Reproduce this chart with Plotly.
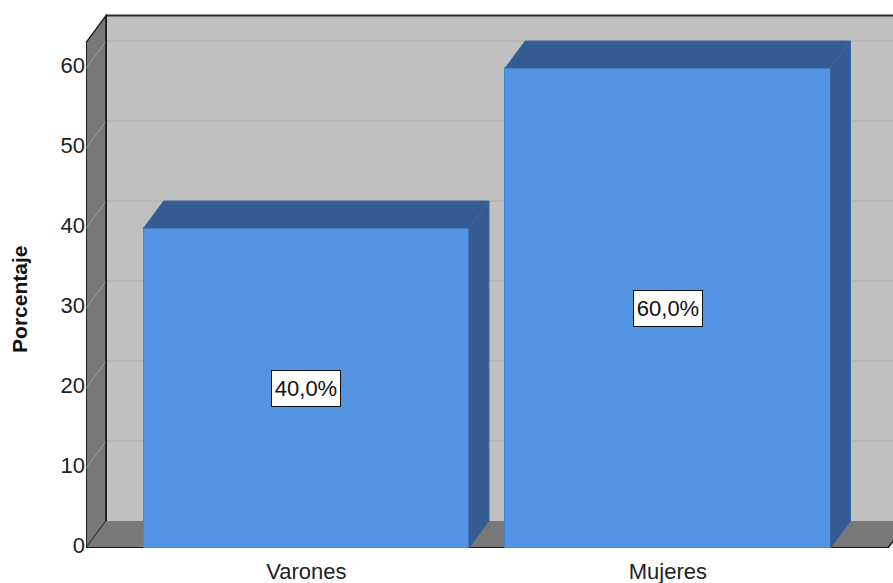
import plotly.graph_objects as go

# ---- data ----
categories = ["Varones", "Mujeres"]
percentages = [40.0, 60.0]
y_ticks = [0, 10, 20, 30, 40, 50, 60]
y_title = "Porcentaje"

# ---- 3D frame constants (data units) ----
DX = 0.0553      # depth offset along category axis
DY = 3.375       # depth offset along value axis
WALL_X = -0.609  # front edge of left wall
FLOOR_X_END = 1.609
WALL_TOP = 63.2
BAR_W = 0.9
X_RANGE = [-0.6095, 1.6229]
Y_RANGE = [0, 67.25]

FRONT = "#5394E3"
DARK = "#345C93"
WALL = "#C0C0C0"
SIDE = "#787878"

xs = list(range(len(categories)))

fig = go.Figure()

shapes = []
# back wall
shapes.append(dict(type="rect", xref="x", yref="y", layer="below",
                   x0=WALL_X + DX, x1=X_RANGE[1] + 0.2, y0=DY, y1=WALL_TOP + DY,
                   fillcolor=WALL, line=dict(width=0)))
# back wall grid lines
for t in y_ticks[1:]:
    shapes.append(dict(type="line", xref="x", yref="y", layer="below",
                       x0=WALL_X + DX, x1=X_RANGE[1] + 0.2, y0=t + DY, y1=t + DY,
                       line=dict(color="#ACACAC", width=1)))
# back wall top edge
shapes.append(dict(type="line", xref="x", yref="y", layer="below",
                   x0=WALL_X + DX, x1=X_RANGE[1] + 0.2, y0=WALL_TOP + DY, y1=WALL_TOP + DY,
                   line=dict(color="#2a2a2a", width=2)))
# left wall
shapes.append(dict(type="path", xref="x", yref="y", layer="below",
                   path=f"M{WALL_X},0 L{WALL_X},{WALL_TOP} L{WALL_X+DX},{WALL_TOP+DY} L{WALL_X+DX},{DY} Z",
                   fillcolor=SIDE, line=dict(color="#1a1a1a", width=1.5)))
# left wall grid lines
for t in y_ticks[1:]:
    shapes.append(dict(type="line", xref="x", yref="y", layer="below",
                       x0=WALL_X, x1=WALL_X + DX, y0=t, y1=t + DY,
                       line=dict(color="#9C9C9C", width=1)))
# floor
shapes.append(dict(type="path", xref="x", yref="y", layer="below",
                   path=f"M{WALL_X},0 L{WALL_X+DX},{DY} L{FLOOR_X_END+DX},{DY} L{FLOOR_X_END},0 Z",
                   fillcolor=SIDE, line=dict(width=0)))
# floor front edge
shapes.append(dict(type="line", xref="x", yref="y", layer="below",
                   x0=WALL_X, x1=FLOOR_X_END, y0=0, y1=0,
                   line=dict(color="#1a1a1a", width=2)))
shapes.append(dict(type="line", xref="x", yref="y", layer="below",
                   x0=FLOOR_X_END, x1=FLOOR_X_END + DX, y0=0, y1=DY,
                   line=dict(color="#1a1a1a", width=1.5)))
# back vertical corner
shapes.append(dict(type="line", xref="x", yref="y", layer="below",
                   x0=WALL_X + DX, x1=WALL_X + DX, y0=DY, y1=WALL_TOP + DY,
                   line=dict(color="#1a1a1a", width=1.5)))

# front faces of bars
fig.add_trace(go.Bar(x=xs, y=percentages, width=BAR_W,
                     marker=dict(color=FRONT, line=dict(color="#4A86D2", width=1)),
                     hoverinfo="skip", showlegend=False))

# side & top faces
sx, sy, tx, ty = [], [], [], []
for x, v in zip(xs, percentages):
    xl, xr = x - BAR_W / 2, x + BAR_W / 2
    sx += [xr, xr + DX, xr + DX, xr, xr, None]
    sy += [0, DY, v + DY, v, 0, None]
    tx += [xl, xl + DX, xr + DX, xr, xl, None]
    ty += [v, v + DY, v + DY, v, v, None]
fig.add_trace(go.Scatter(x=sx, y=sy, mode="lines", fill="toself", fillcolor=DARK,
                         line=dict(color="#3A66A0", width=1), hoverinfo="skip", showlegend=False))
fig.add_trace(go.Scatter(x=tx, y=ty, mode="lines", fill="toself", fillcolor=DARK,
                         line=dict(color="#3A66A0", width=1), hoverinfo="skip", showlegend=False))

annotations = []
for x, v in zip(xs, percentages):
    annotations.append(dict(x=x, y=v / 2, xref="x", yref="y", showarrow=False,
                            text=f"{v:.1f}".replace(".", ",") + "%",
                            width=64, height=31,
                            font=dict(family="Liberation Sans, Arial, sans-serif", size=22, color="#111"),
                            bgcolor="white", bordercolor="#111", borderwidth=1, borderpad=2))
annotations.append(dict(x=-0.0818, y=0.463, xref="paper", yref="paper", showarrow=False,
                        text=f"<b>{y_title}</b>", textangle=-90, xanchor="center", yanchor="middle",
                        font=dict(family="Liberation Sans, Arial, sans-serif", size=21, color="#111")))

fig.update_layout(
    width=893, height=583,
    margin=dict(l=86, r=0, t=10, b=35, autoexpand=False),
    paper_bgcolor="white", plot_bgcolor="white",
    shapes=shapes, annotations=annotations,
    font=dict(family="Liberation Sans, Arial, sans-serif", size=22, color="#222"),
    xaxis=dict(range=X_RANGE, tickvals=xs, ticktext=categories, showgrid=False, zeroline=False,
               showline=False, ticks="outside", ticklen=4, tickcolor="rgba(0,0,0,0)",
               automargin=False, fixedrange=True),
    yaxis=dict(range=Y_RANGE, tickvals=y_ticks, showgrid=False, zeroline=False, showline=False,
               ticks="", ticklabelshift=-3, automargin=False, fixedrange=True),
    bargap=0,
)

fig.write_html("out.html", config={"displayModeBar": False},
               post_script="document.body.style.margin='0';")
